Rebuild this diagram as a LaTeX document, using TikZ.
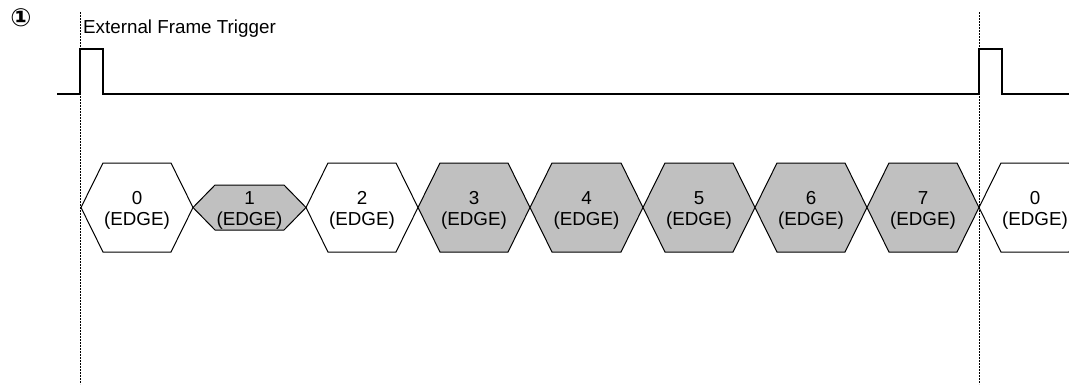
\documentclass[tikz,border=0pt]{standalone}
\usepackage{fontspec}
\setmainfont{Liberation Sans}
\newfontfamily\symfont{DejaVu Sans}
\definecolor{hexgray}{HTML}{C0C0C0}
\begin{document}
\begin{tikzpicture}[x=1pt,y=-1pt,
  sig/.style={line width=1.2pt,line cap=rect},
  marker/.style={line width=1pt,dash pattern=on 2pt off 1pt},
  hexwhite/.style={draw=black,fill=white,line width=1pt,line join=miter},
  hexgrey/.style={draw=black,fill=hexgray,line width=1pt,line join=miter},
  lbl/.style={font=\fontsize{18.8}{21.5}\selectfont,align=center,inner sep=0pt},
  title/.style={font=\fontsize{18.8}{21}\selectfont,inner sep=0pt,anchor=base west}]
\useasboundingbox (0,0) rectangle (1069,384);
\clip (0,0) rectangle (1069,384);
\fill[white] (0,0) rectangle (1069,384);
% circled marker
\node[inner sep=0pt,font=\symfont\bfseries\fontsize{25}{25}\selectfont] (num) at (21,18) {①};
% dashed markers
\coordinate (m1t) at (80,12); \coordinate (m1b) at (80,384);
\coordinate (m2t) at (979,12); \coordinate (m2b) at (979,384);
% title
\node[title] (trig) at (83,33) {External Frame Trigger};
% trigger signal
\coordinate (s0) at (58,94);
\coordinate (p1a) at (80,94); \coordinate (p1b) at (80,49);
\coordinate (p1c) at (103,49); \coordinate (p1d) at (103,94);
\coordinate (p2a) at (979,94); \coordinate (p2b) at (979,49);
\coordinate (p2c) at (1002,49); \coordinate (p2d) at (1002,94);
\coordinate (s1) at (1069,94);
\draw[sig] (s0) -- (p1a) -- (p1b) -- (p1c) -- (p1d) -- (p2a) -- (p2b) -- (p2c) -- (p2d) -- (s1);
% hexagons
\foreach \n/\L/\R/\st/\h/\txt in {h0/81/193/hexwhite/44.5/0, h2/306/418/hexwhite/44.5/2,
   h3/418/530/hexgrey/44.5/3, h4/530/643/hexgrey/44.5/4, h5/643/755/hexgrey/44.5/5,
   h6/755/867/hexgrey/44.5/6, h7/867/979/hexgrey/44.5/7, h8/979/1091/hexwhite/44.5/0,
   h1/193/306/hexgrey/22.5/1}{
  \draw[\st] (\L,207.5) -- (\L+22,207.5-\h) -- (\R-22,207.5-\h) -- (\R,207.5)
     -- (\R-22,207.5+\h) -- (\L+22,207.5+\h) -- cycle;
  \node[lbl] (\n) at ({(\L+\R)/2},210.5) {\txt\\(EDGE)};
}
\draw[marker] (m1t) -- (m1b);
\draw[marker] (m2t) -- (m2b);
\end{tikzpicture}
\end{document}
